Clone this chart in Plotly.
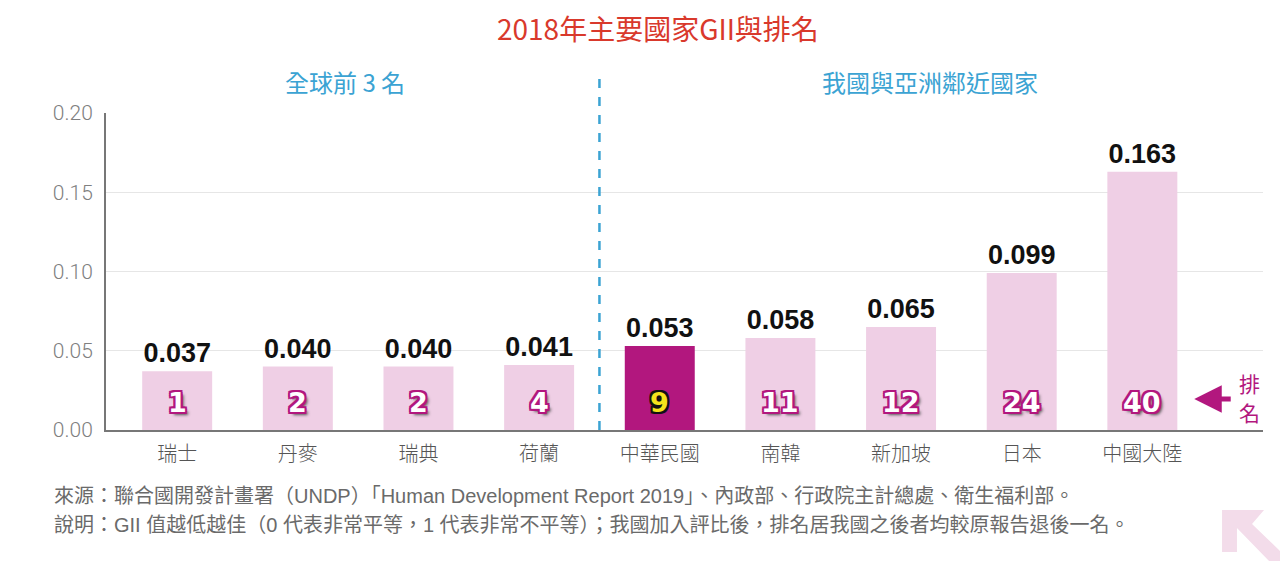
import plotly.graph_objects as go

# data
countries = ["瑞士", "丹麥", "瑞典", "荷蘭", "中華民國", "南韓", "新加坡", "日本", "中國大陸"]
gii_values = [0.037, 0.040, 0.040, 0.041, 0.053, 0.058, 0.065, 0.099, 0.163]
ranks = [1, 2, 2, 4, 9, 11, 12, 24, 40]
highlight = "中華民國"

y_ticks = [0.00, 0.05, 0.10, 0.15, 0.20]

title_text = "2018年主要國家GII與排名"
group_left = "全球前 3 名"
group_right = "我國與亞洲鄰近國家"
rank_label = ["排", "名"]
source_note = "來源：聯合國開發計畫署（UNDP）「Human Development Report 2019」、內政部、行政院主計總處、衛生福利部。"
remark_note = "說明：GII 值越低越佳（0 代表非常平等，1 代表非常不平等）；我國加入評比後，排名居我國之後者均較原報告退後一名。"

PINK = "#efcfe5"
MAGENTA = "#b2177e"
BLUE = "#3ba3d3"
GREY_TXT = "#6a6a6a"

W, H = 1280, 561
M_L, M_R, M_T, M_B = 106, 17, 113, 131
plot_w = W - M_L - M_R
plot_h = H - M_T - M_B


def px_to_paper(px, py):
    return (px - M_L) / plot_w, (H - M_B - py) / plot_h


bar_colors = [MAGENTA if c == highlight else PINK for c in countries]

fig = go.Figure()
fig.add_trace(
    go.Bar(
        x=countries,
        y=gii_values,
        marker=dict(color=bar_colors, line=dict(width=0)),
        texttemplate="%{y:.3f}",
        textposition="outside",
        textfont=dict(family="Liberation Sans Narrow, Liberation Sans, sans-serif",
                      size=27, color="#111111", weight="bold"),
        cliponaxis=False,
        hoverinfo="skip",
    )
)

# rank numbers inside the bars
outline_m = ", ".join(f"{dx}px {dy}px 0 {MAGENTA}" for dx in (-2, 0, 2) for dy in (-2, 0, 2)) + ", 3px 3px 3px #555"
outline_k = ", ".join(f"{dx}px {dy}px 0 #111" for dx in (-2, 0, 2) for dy in (-2, 0, 2))
for c, r in zip(countries, ranks):
    is_hl = c == highlight
    fig.add_annotation(
        x=c, y=0.0175, xref="x", yref="y",
        text=str(r), showarrow=False,
        font=dict(family="DejaVu Sans, sans-serif", size=27, weight="bold",
                  color="#f4e21c" if is_hl else "white",
                  shadow=outline_k if is_hl else outline_m),
    )

# group headings and the divider
head_y = px_to_paper(0, 82)[1]
fig.add_annotation(x=1.39, y=head_y, xref="x", yref="paper", yanchor="middle",
                   text=group_left, showarrow=False,
                   font=dict(family="Noto Sans CJK TC", size=24, color=BLUE))
fig.add_annotation(x=6.24, y=head_y, xref="x", yref="paper", yanchor="middle",
                   text=group_right, showarrow=False,
                   font=dict(family="Noto Sans CJK TC", size=24, color=BLUE))
fig.add_shape(type="line", x0=3.5, x1=3.5, xref="x", yref="paper",
              y0=0, y1=px_to_paper(0, 70)[1],
              line=dict(color=BLUE, width=2.5, dash="dash"))

# "排名" marker: arrow and the two stacked characters
fig.add_annotation(x=8.43, y=0.0195, xref="x", yref="y",
                   text="", showarrow=True, ax=38, ay=0,
                   arrowhead=2, arrowsize=1.1, arrowwidth=5, arrowcolor=MAGENTA,
                   standoff=0)
for ch, py in zip(rank_label, [383, 412]):
    xp, yp = px_to_paper(1249, py)
    fig.add_annotation(x=xp, y=yp, xref="paper", yref="paper",
                       xanchor="center", yanchor="middle",
                       text=ch, showarrow=False,
                       font=dict(family="Noto Sans CJK TC", size=21, color=MAGENTA))

# footnotes
for note, py in [(source_note, 496), (remark_note, 525)]:
    xp, yp = px_to_paper(52, py)
    fig.add_annotation(x=xp, y=yp, xref="paper", yref="paper",
                       xanchor="left", yanchor="middle",
                       text=note, showarrow=False,
                       font=dict(family="Liberation Sans, Noto Sans CJK TC", size=20, color=GREY_TXT))

# decorative corner arrow
corner = [(1222, 510), (1264, 510), (1252, 524), (1280, 551), (1280, 561),
          (1269, 561), (1237, 528), (1237, 552), (1222, 552)]
pts = [px_to_paper(x, y) for x, y in corner]
path = "M " + " L ".join(f"{x:.4f},{y:.4f}" for x, y in pts) + " Z"
fig.add_shape(type="path", path=path, xref="paper", yref="paper",
              fillcolor="#f3dcea", line=dict(width=0), layer="below")

fig.update_layout(
    width=W, height=H,
    margin=dict(l=M_L, r=M_R, t=M_T, b=M_B),
    paper_bgcolor="white", plot_bgcolor="white",
    showlegend=False,
    bargap=0.42,
    title=dict(text=title_text, x=0.514, xanchor="center", y=1 - 30 / H, yanchor="middle",
               font=dict(family="Noto Sans CJK TC", size=28, color="#d9392c")),
    xaxis=dict(
        type="category", range=[-0.59, 9.0],
        showline=True, linecolor="#777777", linewidth=2,
        ticks="", showgrid=False, ticklabelstandoff=5,
        tickfont=dict(family="Noto Sans CJK TC", size=20, color="#555555", weight=300),
    ),
    yaxis=dict(
        range=[0, 0.2], tickvals=y_ticks, tickformat=".2f",
        showline=True, linecolor="#777777", linewidth=2,
        showgrid=True, gridcolor="#e6e6e6", gridwidth=1,
        zeroline=False, ticks="", ticklabelstandoff=7,
        tickfont=dict(family="Roboto, sans-serif", size=21, color="#808080", weight=300),
    ),
)

fig.write_html("out.html", config={"displayModeBar": False},
               post_script="document.body.style.margin='0';")
